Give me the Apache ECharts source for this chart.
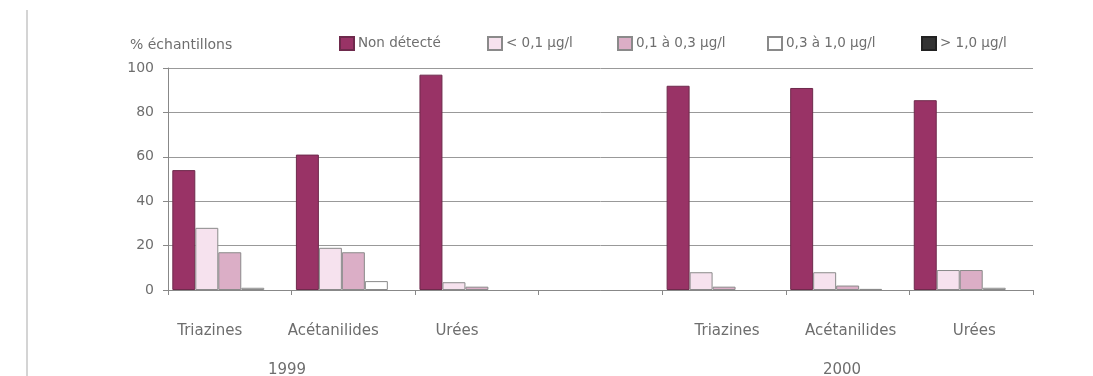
<!DOCTYPE html>
<html>
<head>
<meta charset="utf-8">
<script src="https://cdn.jsdelivr.net/npm/echarts@6/dist/echarts.min.js"></script>
<style>
  html, body { margin: 0; padding: 0; background: #fff; }
  #wrap { position: relative; width: 1093px; height: 376px; }
  #chart { width: 1093px; height: 376px; }
  .edge { position: absolute; left: 26px; top: 10px; width: 2px; height: 366px; background: #d4d4d4; z-index: 2; }
</style>
</head>
<body>
<div id="wrap">
  <div id="chart"></div>
  <div class="edge"></div>
</div>
<script>
// Pesticide families, grouped by sampling year (one blank slot separates the years)
const categories = ['Triazines', 'Acétanilides', 'Urées', '', 'Triazines', 'Acétanilides', 'Urées'];
const yearOf = [0, 0, 0, null, 1, 1, 1];
const years = ['1999', '2000'];
const yTicks = [0, 20, 40, 60, 80, 100];

// Share of samples (%) per concentration class
const seriesNames = ['Non détecté', '< 0,1 µg/l', '0,1 à 0,3 µg/l', '0,3 à 1,0 µg/l', '> 1,0 µg/l'];
const nonDetecte  = [54, 61, 97, '-', 92, 91, 85.5];
const moins01     = [28, 19, 3.5, '-', 8, 8, 9];
const de01a03     = [17, 17, 1.5, '-', 1.5, 2, 9];
const de03a10     = [1, 4, 0, '-', 0, 0.5, 1];
const plus10      = [0, 0, 0, '-', 0, 0, 0];
const seriesData = [nonDetecte, moins01, de01a03, de03a10, plus10];

const fills   = ['#993366', '#f6e2ee', '#dbaec6', '#ffffff', '#333333'];
const borders = ['#6e2a4c', '#8a8a8a', '#8a8a8a', '#8a8a8a', '#222222'];
const font = '"DejaVu Sans", sans-serif';
const textGrey = '#6e6e6e';

const chart = echarts.init(document.getElementById('chart'));

const legendLefts = [334, 482, 612, 762, 916];
const legends = seriesNames.map((n, i) => ({
  data: [n],
  left: legendLefts[i],
  top: 31,
  icon: 'rect',
  itemWidth: 14,
  itemHeight: 13,
  itemGap: 4,
  selectedMode: false,
  textStyle: { fontFamily: font, fontSize: 13.5, color: textGrey, padding: [0, 0, 0, -1] }
}));

// zero-height bars are left without an outline so they do not thicken the axis
const barData = seriesData.map((arr, i) => arr.map(v => (
  v === 0 ? { value: 0, itemStyle: { borderWidth: 0 } } : v
)));

chart.setOption({
  animation: false,
  backgroundColor: 'transparent',
  title: [
    { text: '% échantillons', left: 125, top: 33,
      textStyle: { fontFamily: font, fontSize: 14, fontWeight: 'normal', color: textGrey } },
    { text: years[0], left: 282, top: 358, textAlign: 'center',
      textStyle: { fontFamily: font, fontSize: 15, fontWeight: 'normal', color: textGrey } },
    { text: years[1], left: 837, top: 358, textAlign: 'center',
      textStyle: { fontFamily: font, fontSize: 15, fontWeight: 'normal', color: textGrey } }
  ],
  legend: legends,
  grid: { left: 168, right: 60, top: 68, bottom: 86 },
  xAxis: {
    type: 'category',
    data: categories,
    axisLine: { lineStyle: { color: '#888', width: 1 } },
    axisTick: { show: true, length: 5, lineStyle: { color: '#888' } },
    axisLabel: {
      interval: 0,
      margin: 34,
      formatter: (v, idx) => v === '' ? '' : (yearOf[idx] === 0 ? '{a|' + v + '}' : '{b|' + v + '}'),
      rich: {
        a: { fontFamily: font, fontSize: 15, color: textGrey, padding: [0, 40, 0, 0] },
        b: { fontFamily: font, fontSize: 15, color: textGrey, padding: [0, 0, 0, 6] }
      }
    }
  },
  yAxis: {
    type: 'value',
    min: yTicks[0],
    max: yTicks[yTicks.length - 1],
    interval: 20,
    axisLine: { show: true, lineStyle: { color: '#888' } },
    axisTick: { show: true, length: 5, lineStyle: { color: '#888' } },
    splitLine: { lineStyle: { color: '#999', width: 1 } },
    axisLabel: { fontFamily: font, fontSize: 14, color: textGrey, margin: 14 }
  },
  series: seriesNames.map((n, i) => ({
    name: n,
    type: 'bar',
    data: barData[i],
    barGap: '0%',
    barCategoryGap: '7%',
    itemStyle: { color: fills[i], borderColor: borders[i], borderWidth: 1 }
  }))
});
</script>
</body>
</html>
